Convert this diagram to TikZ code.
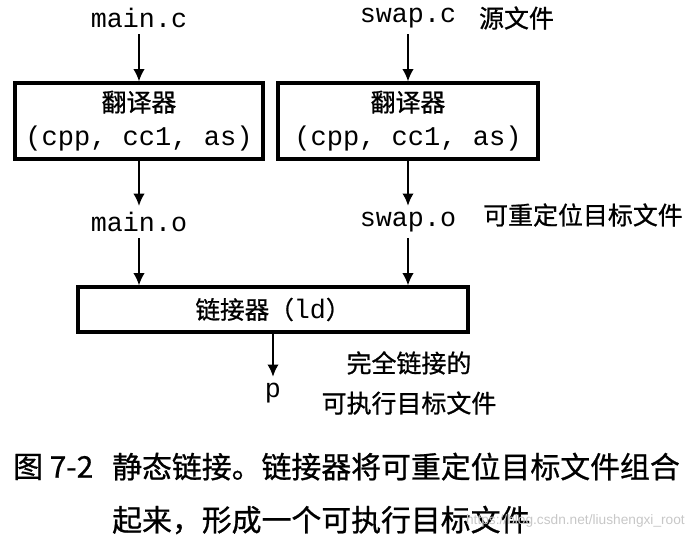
\documentclass[tikz,border=0pt]{standalone}
\usepackage{fontspec}
\setmonofont{Liberation Mono}
\setsansfont{Liberation Sans}
\newfontfamily\cjk[FakeBold=0.8]{Noto Sans CJK SC}
\usetikzlibrary{arrows.meta}
\tikzstyle{block} = [draw, line width=1.8pt, rectangle, inner sep=0pt,
    minimum height=1.52cm, minimum width=4.96cm, align=center,
    font=\fontsize{14.2}{19.4}\selectfont]
\tikzstyle{file} = [font=\fontsize{15.2}{15}\selectfont\ttfamily]
\tikzstyle{note} = [font=\fontsize{14.2}{22.8}\selectfont\cjk, align=center]
\tikzstyle{flow} = [->, line width=1.1pt]
\tikzstyle{caption} = [font=\fontsize{17}{30.2}\selectfont\cjk, align=left]

\begin{document}
\begin{tikzpicture}[auto, node distance=2cm,>={Latex[length=7pt,width=6.5pt]}]
\useasboundingbox (0,0) rectangle (13.9,-10.76);
% Nodes
	\node [file] (mainc) at (2.78,-0.36) {main.c};
	\node [file, right of=mainc, node distance=5.38cm] (swapc) {swap.c};
	\node [block, below of=mainc, node distance=2.06cm] (trans1) {{\cjk 翻译器}\\{\ttfamily\fontsize{15.4}{15}\selectfont (cpp, cc1, as)}};
	\node [block, below of=swapc, node distance=2.06cm, minimum width=5.2cm] (trans2) {{\cjk 翻译器}\\{\ttfamily\fontsize{15.4}{15}\selectfont (cpp, cc1, as)}};
	\node [file, below of=trans1, node distance=2.02cm] (maino) {main.o};
	\node [file, below of=trans2, node distance=2.02cm] (swapo) {swap.o};
	\node [block, below of=maino, node distance=1.75cm, xshift=2.68cm,
	       minimum width=7.8cm, minimum height=0.9cm,
	       font=\fontsize{14}{14}\selectfont] (linker) {{\cjk 链接器（}{\ttfamily\fontsize{15.2}{15}\selectfont ld}{\cjk ）}};
	\node [file, below of=linker, node distance=1.67cm] (prog) {p};
% Connections
	\draw [flow] (mainc) -- (trans1);
	\draw [flow] (swapc) -- (trans2);
	\draw [flow] (trans1) -- (maino);
	\draw [flow] (trans2) -- (swapo);
	\draw [flow] (maino) -- (maino |- linker.north);
	\draw [flow] (swapo) -- (swapo |- linker.north);
	\draw [flow] (prog |- linker.south) -- (prog);
% Notations
	\node [note, right of=swapc, node distance=2.17cm] (n1) {源文件};
	\node [note, right of=swapo, node distance=3.5cm, yshift=0.14cm] (n2) {可重定位目标文件};
	\node [note, right of=prog, node distance=2.72cm, yshift=0.2cm] (n3) {完全链接的\\可执行目标文件};
% Caption
	\node [caption, anchor=west] (fignum) at (0.14,-9.34) {图 7-2};
	\node [caption, anchor=west] (captext) at (2.12,-9.87) {静态链接。链接器将可重定位目标文件组合\\起来，形成一个可执行目标文件};
	\node [font=\fontsize{7.8}{8}\selectfont\sffamily, text=black!22, anchor=east] (mark) at (13.82,-10.42) {https://blog.csdn.net/liushengxi\_root};
\end{tikzpicture}
\end{document}
